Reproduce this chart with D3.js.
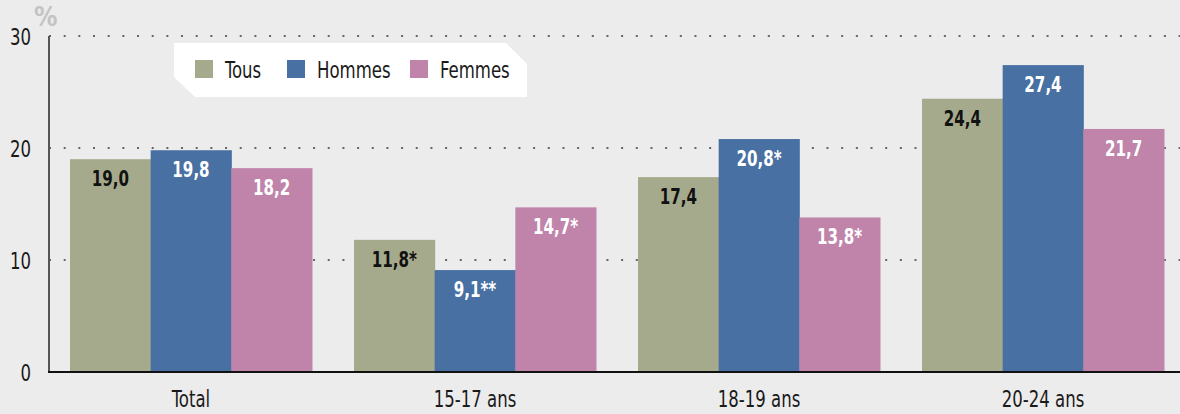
<!DOCTYPE html>
<html>
<head>
<meta charset="utf-8">
<script src="https://cdn.jsdelivr.net/npm/d3@7"></script>
<style>
  html, body { margin: 0; padding: 0; background: #ececec; }
  svg { display: block; font-family: "DejaVu Sans Condensed", "DejaVu Sans", sans-serif; font-stretch: condensed; }
</style>
</head>
<body>
<div id="chart"></div>
<script>
// data
const categories = ["Total", "15-17 ans", "18-19 ans", "20-24 ans"];
const seriesNames = ["Tous", "Hommes", "Femmes"];
const tous = [19.0, 11.8, 17.4, 24.4];
const hommes = [19.8, 9.1, 20.8, 27.4];
const femmes = [18.2, 14.7, 13.8, 21.7];
const tousLabels = ["19,0", "11,8*", "17,4", "24,4"];
const hommesLabels = ["19,8", "9,1**", "20,8*", "27,4"];
const femmesLabels = ["18,2", "14,7*", "13,8*", "21,7"];
const yTicks = [0, 10, 20, 30];

const colors = {Tous: "#a6aa8d", Hommes: "#4870a2", Femmes: "#c084ab"};
const labelColors = {Tous: "#111", Hommes: "#fff", Femmes: "#fff"};

const W = 1180, H = 414;
const x0 = 49, x1 = 1185, yBase = 372, yTop = 36;
const SQ = 0.8; // horizontal squeeze, the original font is very narrow

// put text at (px,py) and squeeze it horizontally
function place(sel, px, py) {
    sel.attr("transform", (d, i) => {
        const tx = typeof px === "function" ? px(d, i) : px;
        const ty = typeof py === "function" ? py(d, i) : py;
        return `translate(${tx},${ty}) scale(${SQ},1)`;
    });
}

const svg = d3.select("#chart").append("svg")
    .attr("width", W).attr("height", H);

svg.append("rect").attr("width", W).attr("height", H).attr("fill", "#ececec");

const x = d3.scaleBand()
    .domain(categories)
    .range([x0, x1])
    .paddingInner(0.148)
    .paddingOuter(0.074);

const xs = d3.scaleBand()
    .domain(seriesNames)
    .range([0, x.bandwidth()]);

const y = d3.scaleLinear().domain([0, 30]).range([yBase, yTop]);

// dotted grid
svg.append("g")
    .selectAll("line")
    .data(yTicks.filter(d => d > 0))
    .enter()
    .append("line")
    .attr("x1", x0)
    .attr("x2", W)
    .attr("y1", d => y(d))
    .attr("y2", d => y(d))
    .attr("stroke", "#666")
    .attr("stroke-width", 2)
    .attr("stroke-dasharray", "2,12.67");

// y tick labels
svg.append("g")
    .selectAll("text")
    .data(yTicks)
    .enter()
    .append("text")
    .attr("text-anchor", "end")
    .style("font-size", "23px")
    .style("fill", "#1a1a1a")
    .text(d => d)
    .call(place, 31, d => y(d) + 9);

// "%" unit
svg.append("text")
    .attr("x", 34)
    .attr("y", 26)
    .style("font-size", "26px")
    .style("font-weight", "bold")
    .style("fill", "#c4c4c4")
    .text("%");

// bars
const rows = categories.map((c, i) => ({
    cat: c,
    vals: [
        {s: "Tous", v: tous[i], lab: tousLabels[i]},
        {s: "Hommes", v: hommes[i], lab: hommesLabels[i]},
        {s: "Femmes", v: femmes[i], lab: femmesLabels[i]}
    ]
}));

const groups = svg.append("g")
    .selectAll("g")
    .data(rows)
    .enter()
    .append("g")
    .attr("transform", d => `translate(${x(d.cat)},0)`);

groups.selectAll("rect")
    .data(d => d.vals)
    .enter()
    .append("rect")
    .attr("x", d => xs(d.s))
    .attr("y", d => y(d.v))
    .attr("width", xs.bandwidth() + 0.5)
    .attr("height", d => yBase - y(d.v))
    .attr("fill", d => colors[d.s]);

groups.selectAll("text")
    .data(d => d.vals)
    .enter()
    .append("text")
    .attr("text-anchor", "middle")
    .style("font-size", "21px")
    .style("font-weight", "bold")
    .style("fill", d => labelColors[d.s])
    .text(d => d.lab)
    .call(place, d => xs(d.s) + xs.bandwidth() / 2, d => y(d.v) + 27);

// axes lines
svg.append("line")
    .attr("x1", x0).attr("x2", x0)
    .attr("y1", yTop).attr("y2", yBase)
    .attr("stroke", "#555").attr("stroke-width", 2);

svg.append("line")
    .attr("x1", x0 - 1).attr("x2", W)
    .attr("y1", yBase).attr("y2", yBase)
    .attr("stroke", "#111").attr("stroke-width", 2);

// x labels
svg.append("g")
    .selectAll("text")
    .data(categories)
    .enter()
    .append("text")
    .attr("text-anchor", "middle")
    .style("font-size", "23px")
    .style("fill", "#1a1a1a")
    .text(d => d)
    .call(place, d => x(d) + x.bandwidth() / 2, 407);

// legend box with cut corners
const lg = svg.append("g");
lg.append("path")
    .attr("d", "M174,43 L506,43 L527,64 L527,97 L195,97 L174,77 Z")
    .attr("fill", "#fff");

const legendX = [195, 287, 410];
seriesNames.forEach((s, i) => {
    lg.append("rect")
        .attr("x", legendX[i]).attr("y", 60)
        .attr("width", 18).attr("height", 18)
        .attr("fill", colors[s]);
    lg.append("text")
        .style("font-size", "23px")
        .style("fill", "#1a1a1a")
        .text(s)
        .call(place, legendX[i] + 30, 78);
});
</script>
</body>
</html>
